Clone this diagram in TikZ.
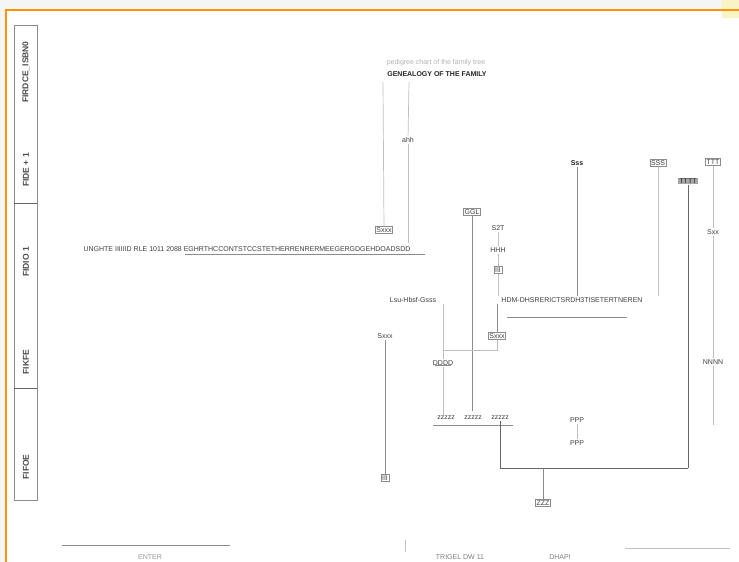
\documentclass[tikz,border=0pt]{standalone}
\usepackage{fontspec}
\setmainfont{Liberation Sans}
\begin{document}
\begin{tikzpicture}[x=1pt,y=-1pt,
  lbl/.style={font=\fontsize{7}{8}\selectfont, text=black!75, inner sep=1pt},
  dlbl/.style={font=\fontsize{7}{8}\selectfont\bfseries, text=black!85, inner sep=1pt},
  slbl/.style={font=\fontsize{8.5}{9}\selectfont\bfseries, text=black!70, inner sep=1pt},
  bx/.style={lbl, draw=black!45, line width=0.5pt},
  ln/.style={draw=black!45, line width=0.7pt},
  lnl/.style={draw=black!25, line width=0.7pt},
  lnd/.style={draw=black!60, line width=1pt}]
\useasboundingbox (0,0) rectangle (739,562);
\fill[white] (0,0) rectangle (739,562);
\fill[black!4] (0,0) rectangle (739,9);
\fill[black!4] (0,9) rectangle (5,562);
\fill[brown!35!yellow!25] (722,0) rectangle (739,18);
\draw[orange!85!yellow, line width=2pt] (6,562) -- (6,10) -- (739,10);
% left strip
\draw[ln] (14,25) rectangle (37,500);
\draw[lnd] (14,203) -- (37,203);
\draw[lnd] (14,388) -- (37,388);
\node[slbl, rotate=90] (s1) at (26,72) {FIRDCE\_ISBN0};
\node[slbl, rotate=90] (s2) at (26,170) {FIDE + 1};
\node[slbl, rotate=90] (s3) at (26,262) {FIDIO 1};
\node[slbl, rotate=90] (s4) at (26,362) {FIKFE};
\node[slbl, rotate=90] (s5) at (26,467) {FIFOE};
% title
\node[lbl, text=black!30] (t0) at (436,63) {pedigree chart of the family tree};
\node[dlbl] (t1) at (437,74) {GENEALOGY OF THE FAMILY};
\coordinate (ta) at (383,82);
\coordinate (tb) at (409,82);
\node[lbl] (n1) at (408,140) {ahh};
\node[bx] (n2) at (384,230) {Sxxx};
\draw[lnl] (ta) -- (n2);
\draw[lnl] (tb) -- (n1);
\coordinate (n1b) at (408,243);
\draw[lnl] (n1) -- (n1b);
% long label left
\node[lbl] (L1) at (247,249) {UNGHTE IIIIIID RLE 1011 2088 EGHRTHCCONTSTCCSTETHERRENRERMEEGERGDGEHDOADSDD};
\coordinate (u1a) at (185,254);
\coordinate (u1b) at (425,254);
\draw[ln] (u1a) -- (u1b);
% middle column
\node[bx] (g1) at (472,212) {GGL};
\coordinate (g1b) at (472,411);
\draw[ln] (g1) -- (g1b);
\node[lbl] (b1) at (498,228) {S2T};
\node[lbl] (b2) at (498,250) {HHH};
\node[bx] (b3) at (498,270) {III};
\draw[lnl] (b1) -- (b2) -- (b3);
\node[lbl] (L2) at (572,300) {HDM-DHSRERICTSRDH3TISETERTNEREN};
\draw[lnl] (b3) -- (L2.north -| b3);
\coordinate (u2a) at (507,317);
\coordinate (u2b) at (627,317);
\draw[ln] (u2a) -- (u2b);
\node[lbl] (L3) at (413,300) {Lsu-Hbsf-Gsss};
\node[lbl] (c1) at (385,336) {Sxxx};
\node[bx] (c2) at (497,336) {Sxxx};
\draw[ln] (L2.south -| c2) -- (c2);
\node[bx] (c3) at (385,478) {III};
\draw[ln] (c1) -- (c3);
\node[lbl] (d1) at (443,363) {DDDD};
\coordinate (hA) at (443,350);
\draw[lnl] (L3.south -| hA) -- (d1);
\draw[lnl] (hA) -| (c2);
\draw[ln] ([xshift=-8pt,yshift=1pt]d1.south) -- ([xshift=8pt,yshift=1pt]d1.south);
% row
\node[lbl] (r1) at (446,418) {zzzzz};
\node[lbl] (r2) at (473,418) {zzzzz};
\node[lbl] (r3) at (500,418) {zzzzz};
\draw[lnl] (d1.south) -- (d1.south |- r1.north);
\coordinate (ur1) at (433,425);
\coordinate (ur2) at (513,425);
\draw[ln] (ur1) -- (ur2);
\coordinate (hB) at (688,468);
\coordinate (hM) at (543,468);
\draw[lnd] (r3.south) -- (r3.south |- hB) -- (hB);
\node[bx] (z1) at (543,503) {ZZZ};
\draw[ln] (hM) -- (z1);
\node[lbl] (p1) at (577,420) {PPP};
\node[lbl] (p2) at (577,443) {PPP};
\draw[lnl] (p1) -- (p2);
% right part
\node[dlbl] (q1) at (577,163) {Sss};
\draw[ln] (q1) -- (L2.north -| q1);
\node[bx] (q2) at (658,163) {SSS};
\draw[lnl] (q2) -- (L2.north -| q2);
\node[lbl, fill=black!35, text=black!85] (q3) at (688,181) {TTTT};
\draw[lnd] (q3) -- (hB);
\node[bx] (q4) at (713,162) {TTT};
\node[lbl] (q5) at (713,232) {Sxx};
\node[lbl] (q6) at (713,362) {NNNN};
\coordinate (q7) at (713,425);
\draw[lnl] (q4) -- (q5) -- (q6) -- (q7);
% bottom
\coordinate (f1) at (62,545);
\coordinate (f2) at (230,545);
\draw[ln] (f1) -- (f2);
\node[lbl, text=black!40] (f3) at (150,557) {ENTER};
\coordinate (f4) at (405,540);
\coordinate (f5) at (405,552);
\draw[lnl] (f4) -- (f5);
\node[lbl, text=black!50] (f6) at (460,557) {TRIGEL DW 11};
\node[lbl, text=black!50] (f7) at (560,557) {DHAPI};
\coordinate (f8) at (625,548);
\coordinate (f9) at (730,548);
\draw[lnl] (f8) -- (f9);
\end{tikzpicture}
\end{document}
